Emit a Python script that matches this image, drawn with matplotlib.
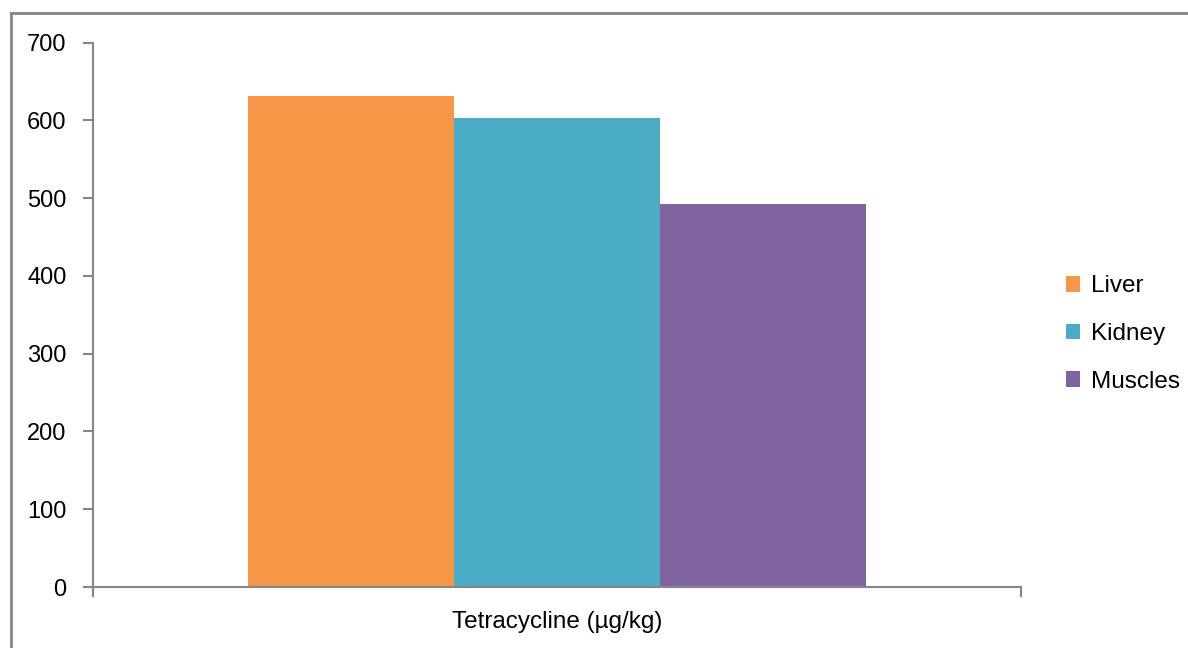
import matplotlib
matplotlib.use('Agg')
import numpy as np
import matplotlib.pyplot as plt
from matplotlib.lines import Line2D

# datos
category = 'Tetracycline (µg/kg)'
tissues = ['Liver', 'Kidney', 'Muscles']
values = [631, 603, 492]
colors = ['#F79646', '#4BACC6', '#8064A2']

plt.rcParams['font.family'] = ['Liberation Sans', 'DejaVu Sans']

W, H = 1188, 648
fig = plt.figure(figsize=(W / 100, H / 100), dpi=100)
ax = fig.add_axes([93 / W, (H - 587) / H, 928 / W, (587 - 42.5) / H])

width = 0.222
offsets = (np.arange(len(tissues)) - 1) * width
for off, v, c, t in zip(offsets, values, colors, tissues):
    ax.bar(off, v, width=width, color=c, label=t)

ax.set_xlim(-0.5, 0.5)
ax.set_ylim(0, 700)
ax.set_yticks(np.arange(0, 701, 100))

gris = '#868686'
for s in ['top', 'right']:
    ax.spines[s].set_visible(False)
for s in ['left', 'bottom']:
    ax.spines[s].set_color(gris)
    ax.spines[s].set_linewidth(1.5)

ax.set_xticks([-0.5, 0.5])
ax.set_xticklabels(['', ''])
ax.tick_params(axis='x', direction='out', length=7, width=1.5, color=gris)
ax.tick_params(axis='y', direction='out', length=7, width=1.5, color=gris,
               labelsize=17, pad=12)
ax.text(0, -0.065, category, transform=ax.get_xaxis_transform(),
        ha='center', va='center', fontsize=17.5)

leg = fig.legend(loc='center left', bbox_to_anchor=(1044 / W, 1 - 334 / H),
                 frameon=False, fontsize=17.5, handlelength=0.6, handleheight=0.6,
                 handletextpad=0.45, labelspacing=1.05)

# borde del grafico
fig.add_artist(Line2D([11 / W, 1.0], [1 - 13 / H, 1 - 13 / H], color=gris, lw=2))
fig.add_artist(Line2D([11 / W, 11 / W], [0, 1 - 13 / H], color=gris, lw=2))

fig.savefig('out.png', dpi=100)
